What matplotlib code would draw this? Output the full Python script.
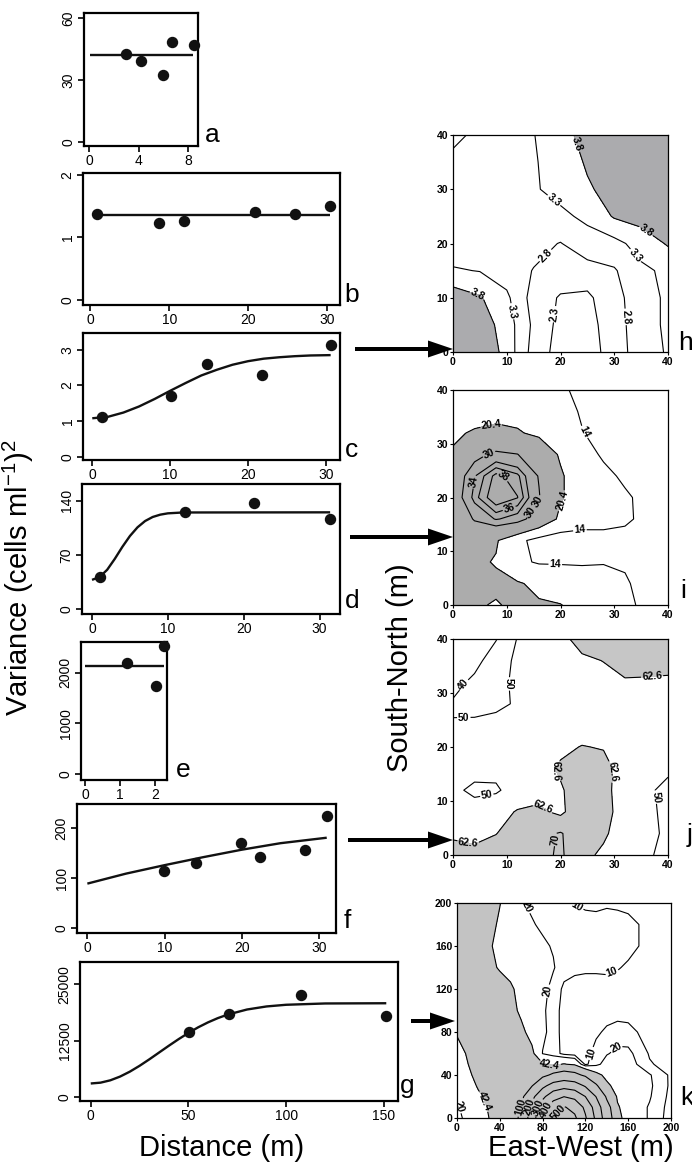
import numpy as np
import matplotlib
matplotlib.use("Agg")
import matplotlib.pyplot as plt
from matplotlib.patches import FancyArrow

plt.rcParams["font.family"] = ["Liberation Sans", "DejaVu Sans"]
plt.rcParams["mathtext.fontset"] = "custom"
plt.rcParams["mathtext.rm"] = "Liberation Sans"

# ---------------- variograms (left column) ----------------
a_dist = [3.0, 4.2, 6.0, 6.7, 8.5]
a_var = [42.6, 39.3, 32.2, 48.2, 46.8]
a_fit_dist = [0.1, 8.4]
a_fit_var = [42.1, 42.1]

b_dist = [0.9, 8.7, 11.9, 20.8, 25.9, 30.3]
b_var = [1.38, 1.23, 1.26, 1.40, 1.37, 1.51]
b_fit_dist = [0.3, 30.3]
b_fit_var = [1.36, 1.36]

c_dist = [1.2, 10.1, 14.7, 21.8, 30.6]
c_var = [1.12, 1.71, 2.60, 2.30, 3.12]
c_fit_dist = [0, 2, 4, 6, 8, 10, 12, 14, 16, 18, 20, 22, 24, 26, 28, 30.6]
c_fit_var = [1.08, 1.12, 1.24, 1.41, 1.62, 1.85, 2.07, 2.28, 2.44, 2.58, 2.68, 2.75, 2.79, 2.82, 2.84, 2.85]

d_dist = [1.1, 12.2, 21.3, 31.4]
d_var = [42, 126, 137, 116]
d_fit_dist = [0, 1, 2, 3, 4, 5, 6, 7, 8, 9, 10, 12, 31.4]
d_fit_var = [38, 41.6, 51, 65, 80.5, 94.5, 105.7, 113.8, 119, 122, 123.7, 124.8, 125]

e_dist = [1.19, 2.03, 2.27]
e_var = [2195, 1736, 2531]
e_fit_dist = [0, 2.27]
e_fit_var = [2136, 2136]

f_dist = [9.9, 14.1, 19.9, 22.3, 28.2, 31.0]
f_var = [115, 130, 170, 143, 157, 225]
f_fit_dist = [0, 5, 10, 15, 20, 25, 31]
f_fit_var = [89, 109, 126, 142, 157, 170, 181]

g_dist = [50.3, 70.7, 107.4, 151.3]
g_var = [14350, 18500, 22720, 17970]
g_fit_dist = [0, 5, 10, 15, 20, 25, 30, 35, 40, 45, 50, 55, 60, 65, 70, 80, 90, 100, 120, 151.3]
g_fit_var = [3000, 3180, 3700, 4530, 5620, 6920, 8360, 9870, 11380, 12840, 14210, 15460,
             16550, 17490, 18270, 19410, 20090, 20460, 20750, 20800]

# ---------------- kriged maps (right column) ----------------
h_x = [0, 5, 10, 15, 20, 25, 30, 35, 40]
h_y = [0, 5, 10, 15, 20, 25, 30, 35, 40]
h_z = [
    [4.7, 4.3, 3.6, 2.6, 2.1, 2.05, 2.55, 3.05, 3.35],
    [4.5, 4.1, 3.55, 2.7, 2.15, 2.1, 2.6, 3.05, 3.4],
    [4.1, 3.85, 3.4, 2.6, 2.25, 2.2, 2.65, 3.05, 3.4],
    [3.35, 3.28, 3.05, 2.78, 2.6, 2.6, 2.75, 3.2, 3.4],
    [3.0, 2.95, 2.9, 2.95, 2.78, 3.1, 3.15, 3.5, 3.85],
    [3.0, 2.95, 2.95, 3.05, 3.2, 3.4, 3.85, 4.0, 4.1],
    [3.05, 3.0, 3.0, 3.25, 3.45, 3.75, 3.95, 4.2, 4.3],
    [3.1, 3.0, 3.0, 3.25, 3.55, 3.85, 4.15, 4.35, 4.45],
    [3.5, 3.1, 3.05, 3.28, 3.7, 3.9, 4.2, 4.4, 4.5],
]
h_levels = [2.3, 2.8, 3.3, 3.8]

i_x = [0, 4, 8, 12, 16, 20, 24, 28, 32, 36, 40]
i_y = [0, 4, 8, 12, 16, 20, 24, 28, 32, 36, 40]
i_z = [
    [22.5, 21, 20, 21.5, 21, 20.6, 18, 16, 15, 13, 12],
    [23, 22.5, 21.5, 21, 19, 17, 16, 15.5, 14.5, 12.5, 12],
    [22, 21.5, 20, 15, 13.5, 13.6, 13.6, 13.8, 13.5, 12, 11.5],
    [22, 22.5, 21, 15.5, 12, 11, 11, 11.5, 12, 11.5, 11],
    [22.8, 30.7, 34.3, 32.6, 26.2, 19, 17, 16.5, 15, 12.5, 11.5],
    [26.3, 35.1, 40, 38.1, 30.4, 21, 17.5, 16, 14.8, 12.5, 11.5],
    [25.5, 33.8, 38.8, 36.6, 29.6, 21, 17.5, 15.5, 13, 12, 11.5],
    [21, 28, 31.5, 30.2, 24, 19.8, 16.5, 13.2, 12, 11.5, 11],
    [19.5, 21, 21.5, 20.8, 19.5, 17.5, 14.2, 12.5, 12, 11.5, 11],
    [18, 18, 19, 19, 18, 16, 13.5, 12, 11.5, 11, 11],
    [17, 17, 17.5, 17.5, 16.5, 15, 12.5, 11.5, 11, 11, 11],
]
i_levels = [14, 20.4, 30, 34, 36, 38]

j_x = [0, 4, 8, 12, 16, 20, 24, 28, 32, 36, 40]
j_y = [0, 4, 8, 12, 16, 20, 24, 28, 32, 36, 40]
j_z = [
    [64, 63, 66, 68, 68, 71, 65, 61, 57, 51, 48],
    [62, 62.2, 62.4, 66, 68, 70.5, 66, 64, 58, 53, 48],
    [58, 56, 58, 63.5, 64, 61, 68, 67, 57, 53, 47],
    [53, 47, 48.5, 55, 60, 61.5, 68, 66, 57, 52, 47],
    [57, 55, 53, 56, 58, 64, 67, 66, 58, 55, 52],
    [57, 57, 56, 56, 58, 60.5, 63, 62, 58, 56, 55],
    [55, 53, 53, 54, 55, 57, 58, 58, 57, 56, 56],
    [41, 45, 48, 51, 55, 57, 58, 58, 58, 58, 58],
    [37, 42, 47, 52, 56, 58, 59, 60, 62, 61.5, 61],
    [32, 37, 45, 52, 56, 60, 61, 62.8, 65, 66, 66],
    [30, 34, 39.5, 50.5, 56, 60, 66, 68, 68, 67, 66],
]
j_levels = [40, 50, 62.6, 70]

k_x = [0, 20, 40, 50, 60, 70, 80, 90, 100, 110, 120, 130, 140, 150, 160, 180, 200]
k_y = [0, 10, 20, 30, 40, 50, 60, 80, 100, 120, 140, 160, 180, 200]
k_z = [
    [15, 35, 50, 55, 119, 251, 387, 498, 591, 517, 411, 279, 145, 53, 28, 19, 5],
    [18, 36, 52, 56, 104, 229, 356, 455, 507, 471, 380, 256, 128, 46, 28, 19, 6],
    [21, 40, 52, 55, 78, 172, 276, 363, 398, 375, 299, 197, 88, 38, 27, 21, 7],
    [28, 44, 54, 56, 50, 96, 176, 239, 265, 247, 190, 109, 48, 33, 30, 22, 8],
    [32, 47, 55, 56, 55, 60, 81, 113, 132, 119, 87, 51, 35, 33, 30, 21, 8],
    [34, 50, 56, 57, 56, 58, 45, 38, 44, 38, 8, 16, 26, 27, 26, 11, 6],
    [36, 52, 56, 56, 55, 48, 19.5, 15, 7, 5, 6, 14, 19, 23, 23, 9, 6],
    [44, 55, 56, 56, 48, 34, 23, 15, 6, 4, 5, 8, 12, 14, 13, 6, 5],
    [56, 57, 56, 50, 38, 30, 22, 15, 6, 4, 4, 4, 5, 6, 6, 5, 5],
    [57, 57, 54, 46, 35, 29, 24, 16, 8, 5, 5, 5, 6, 7, 7, 6, 5],
    [58, 57, 40, 35, 30, 27, 24, 21, 14, 13, 12, 12, 12, 10.5, 9, 6, 5],
    [58, 56, 35, 30, 27, 25, 22, 19, 16, 15, 15, 15, 14, 13, 12, 8, 6],
    [58, 55, 40, 32, 26, 21, 18, 17, 16, 15, 14, 13, 13, 12, 11, 9, 7],
    [57, 55, 43, 34, 21, 18, 16, 14, 12, 9.5, 8, 8, 9, 9, 9, 8, 7],
]
k_levels = [10, 20, 42.4, 100, 200, 300, 400, 500]

W, H = 692, 1168
fig = plt.figure(figsize=(W / 100, H / 100), dpi=100)


def box_axes(l, t, r, b):
    return fig.add_axes([l / W, 1 - b / H, (r - l) / W, (b - t) / H])


def vario(box, xlim, ylim, xticks, yticks, dist, var, fit_d, fit_v):
    ax = box_axes(*box)
    ax.plot(fit_d, fit_v, color="#111111", lw=1.7, solid_capstyle="butt")
    ax.plot(dist, var, "o", color="#111111", ms=7.2, clip_on=False, zorder=3)
    ax.set_xlim(xlim)
    ax.set_ylim(ylim)
    ax.set_xticks(xticks)
    ax.set_yticks(yticks)
    ax.set_xticklabels([str(v) for v in xticks])
    ax.set_yticklabels([str(v) for v in yticks], rotation=90, va="center")
    ax.tick_params(direction="out", length=4, width=1.2, labelsize=10, pad=2)
    for s in ax.spines.values():
        s.set_linewidth(1.6)
    return ax


vario((84, 13, 198, 146), (-0.4, 8.8), (-2, 62.4), [0, 4, 8], [0, 30, 60],
      a_dist, a_var, a_fit_dist, a_fit_var)
vario((83, 173, 340, 305), (-0.92, 31.6), (-0.08, 2.03), [0, 10, 20, 30], [0, 1, 2],
      b_dist, b_var, b_fit_dist, b_fit_var)
vario((83, 333, 340, 460), (-1.19, 31.8), (-0.09, 3.47), [0, 10, 20, 30], [0, 1, 2, 3],
      c_dist, c_var, c_fit_dist, c_fit_var)
vario((82, 484, 340, 614), (-1.32, 32.7), (-6, 161.5), [0, 10, 20, 30], [0, 70, 140],
      d_dist, d_var, d_fit_dist, d_fit_var)
vario((81, 642, 167, 780), (-0.12, 2.35), (-118, 2610), [0, 1, 2], [0, 1000, 2000],
      e_dist, e_var, e_fit_dist, e_fit_var)
vario((77, 804, 336, 933), (-1.34, 32.2), (-10, 248.6), [0, 10, 20, 30], [0, 100, 200],
      f_dist, f_var, f_fit_dist, f_fit_var)
vario((80, 962, 398, 1101), (-5.5, 157.3), (-887, 29950), [0, 50, 100, 150], [0, 12500, 25000],
      g_dist, g_var, g_fit_dist, g_fit_var)


def kmap(box, lim, ticks, gx, gy, z, levels, fill_from, gray, label_pos):
    ax = box_axes(*box)
    z = np.array(z, dtype=float)
    ax.contourf(gx, gy, z, levels=[fill_from, z.max() + 1], colors=[gray])
    cs = ax.contour(gx, gy, z, levels=levels, colors="black", linewidths=0.8)
    txt = ax.clabel(cs, fmt=lambda v: f"{v:g}", fontsize=7.5, inline=True,
                    inline_spacing=1, manual=label_pos)
    for t in txt:
        t.set_fontweight("bold")
    ax.set_xlim(lim)
    ax.set_ylim(lim)
    ax.set_xticks(ticks)
    ax.set_yticks(ticks)
    ax.tick_params(direction="out", length=2.5, width=0.8, labelsize=7.5, pad=1)
    for t in ax.get_xticklabels() + ax.get_yticklabels():
        t.set_fontweight("bold")
    for s in ax.spines.values():
        s.set_linewidth(0.9)
    return ax


kmap((453, 135, 668, 352), (0, 40), [0, 10, 20, 30, 40], h_x, h_y, h_z, h_levels, 3.8, "#ababae",
     [(22, 38), (18, 27), (35, 21), (33, 17), (17, 18), (4.7, 11), (11, 7.5), (18.6, 7), (32.5, 6.5)])
kmap((453, 390, 668, 605), (0, 40), [0, 10, 20, 30, 40], i_x, i_y, i_z, i_levels, 20.4, "#acacac",
     [(7.5, 32), (6.9, 27.5), (9.4, 24), (4.5, 22.8), (10.6, 17.5), (13.7, 17.8), (16.2, 19),
      (21, 19), (24, 32), (23.6, 14), (19, 6.5)])
kmap((453, 639, 668, 855), (0, 40), [0, 10, 20, 30, 40], j_x, j_y, j_z, j_levels, 62.6, "#c6c6c6",
     [(2, 31.5), (10.6, 31.7), (2, 26), (37, 33.5), (6.3, 11), (19.6, 15.8), (28.8, 15.5),
      (16.8, 9), (3, 3), (18, 3), (38.5, 10.8)])
kmap((457, 903, 671, 1118), (0, 200), [0, 40, 80, 120, 160, 200], k_x, k_y, k_z, k_levels, 42.4,
     "#c3c3c3",
     [(22, 14), (3, 10.8), (55, 12), (64, 11), (74, 10), (83, 8), (93, 6), (87, 53),
      (120, 62), (150, 64), (85, 118), (145, 135), (63, 195), (112, 196)])

# overlay in pixel units for arrows and labels
ov = fig.add_axes([0, 0, 1, 1])
ov.set_xlim(0, W)
ov.set_ylim(H, 0)
ov.axis("off")

for x0, x1, y in [(355, 453, 349), (350, 453, 537), (348, 453, 840), (411, 455, 1021)]:
    ov.add_patch(FancyArrow(x0, y, x1 - x0, 0, width=4, head_width=17, head_length=25,
                            length_includes_head=True, color="black", lw=0))

letters = [("a", 212, 135), ("b", 352, 295), ("c", 351, 450), ("d", 352, 601),
           ("e", 183, 770), ("f", 347, 921), ("g", 407, 1086), ("h", 685, 343),
           ("i", 683, 591), ("j", 690, 835), ("k", 687, 1098)]
for s, x, y in letters:
    ov.text(x, y, s, fontsize=19, ha="center", va="center")

ov.text(18, 578, r"Variance (cells ml$^{-1}$)$^{2}$", fontsize=21, rotation=90,
        ha="center", va="center")
ov.text(222, 1148, "Distance (m)", fontsize=21, ha="center", va="center")
ov.text(400, 668, "South-North (m)", fontsize=21, rotation=90, ha="center", va="center")
ov.text(581, 1148, "East-West (m)", fontsize=21, ha="center", va="center")

fig.savefig("out.png", dpi=100)
